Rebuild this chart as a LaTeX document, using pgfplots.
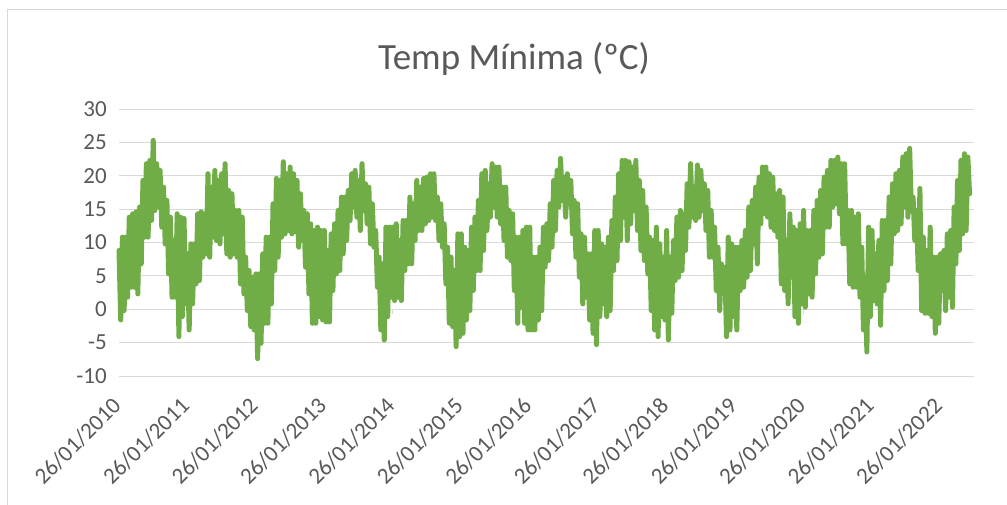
\documentclass[border=0pt]{standalone}
\usepackage{fontspec}
\setmainfont{Carlito}
\usepackage{pgfplots}
\usepackage{pgfplotstable}
\pgfplotsset{compat=1.18}

\definecolor{lgreen}{HTML}{70AD47}
\definecolor{gridc}{HTML}{D9D9D9}
\definecolor{txtc}{HTML}{595959}

% daily minimum temperature, read off the chart as upper/lower pairs,
% 40 values per year starting 26/01/2010
\pgfplotstableread[row sep=\\]{
v\\
8.8\\ -1.6\\ 10.8\\ -0.2\\ 10.8\\ 1.8\\ 13.8\\ 3.3\\ 14.3\\ 3.3\\ 14.6\\ 2.3\\ 15.3\\ 6.8\\ 19.3\\ 10.8\\ 21.8\\ 10.8\\ 22.3\\ 13.3\\
25.3\\ 14.8\\ 21.8\\ 15.3\\ 20.8\\ 12.3\\ 18.3\\ 9.8\\ 16.3\\ 5.3\\ 13.8\\ 1.8\\ 10.3\\ 1.8\\ 14.3\\ -4.1\\ 13.8\\ -1.1\\ 13.6\\ 0.8\\
8.3\\ -3.1\\ 9.8\\ 0.8\\ 9.8\\ 3.8\\ 14.3\\ 4.3\\ 14.6\\ 7.8\\ 14.3\\ 8.3\\ 20.3\\ 7.8\\ 18.3\\ 10.8\\ 20.8\\ 10.3\\ 19.3\\ 9.8\\
20.3\\ 11.3\\ 21.8\\ 8.3\\ 17.8\\ 7.8\\ 17.3\\ 8.3\\ 14.8\\ 7.8\\ 14.8\\ 3.8\\ 13.8\\ 2.3\\ 7.8\\ -0.2\\ 5.8\\ -2.6\\ 4.8\\ -3.1\\
5.3\\ -7.4\\ 5.3\\ -5.1\\ 8.3\\ -2.1\\ 10.8\\ -2.1\\ 10.8\\ 0.8\\ 15.8\\ 5.8\\ 19.6\\ 7.8\\ 19.3\\ 10.8\\ 22.1\\ 11.3\\ 20.3\\ 11.8\\
21.3\\ 11.3\\ 20.3\\ 11.6\\ 19.3\\ 9.3\\ 17.3\\ 10.3\\ 14.8\\ 6.3\\ 14.3\\ 2.3\\ 12.8\\ -2.1\\ 11.8\\ -2.1\\ 12.3\\ -1.1\\ 11.8\\ -1.6\\
11.8\\ -1.9\\ 8.8\\ -1.9\\ 11.3\\ 2.8\\ 12.8\\ 5.3\\ 14.8\\ 5.8\\ 16.8\\ 8.3\\ 16.8\\ 10.3\\ 17.8\\ 13.3\\ 20.3\\ 15.3\\ 20.8\\ 13.8\\
19.3\\ 11.8\\ 21.8\\ 14.8\\ 18.8\\ 12.8\\ 18.3\\ 9.8\\ 15.8\\ 9.3\\ 11.8\\ 3.3\\ 7.8\\ -3.1\\ 6.8\\ -4.6\\ 12.3\\ -1.1\\ 12.3\\ 1.8\\
12.3\\ 1.3\\ 12.8\\ 1.8\\ 10.3\\ 1.3\\ 13.3\\ 5.8\\ 13.3\\ 6.8\\ 16.8\\ 6.8\\ 15.8\\ 10.3\\ 19.3\\ 11.8\\ 18.3\\ 11.8\\ 19.6\\ 12.8\\
19.8\\ 13.3\\ 20.3\\ 13.8\\ 20.3\\ 13.3\\ 16.8\\ 10.3\\ 15.8\\ 9.3\\ 12.8\\ 3.8\\ 9.3\\ -2.1\\ 7.8\\ -2.6\\ 5.8\\ -5.6\\ 11.3\\ -4.1\\
11.3\\ -3.6\\ 9.3\\ -1.6\\ 8.8\\ -0.2\\ 12.3\\ 2.8\\ 13.8\\ 5.8\\ 16.3\\ 5.8\\ 20.3\\ 8.8\\ 20.8\\ 11.8\\ 18.8\\ 13.8\\ 21.8\\ 15.3\\
21.3\\ 13.8\\ 21.3\\ 12.8\\ 18.3\\ 10.3\\ 18.3\\ 7.8\\ 14.8\\ 7.3\\ 14.3\\ 2.8\\ 10.8\\ -2.1\\ 10.8\\ 0.3\\ 11.8\\ -2.1\\ 12.3\\ -3.1\\
12.3\\ -3.1\\ 7.8\\ -3.1\\ 7.8\\ -1.6\\ 9.3\\ -0.2\\ 12.3\\ 6.3\\ 12.8\\ 7.3\\ 15.8\\ 9.3\\ 19.3\\ 11.8\\ 20.8\\ 15.3\\ 22.6\\ 16.3\\
19.8\\ 13.8\\ 20.3\\ 15.8\\ 19.3\\ 11.3\\ 16.3\\ 7.8\\ 15.8\\ 4.8\\ 11.3\\ 0.8\\ 10.8\\ 1.8\\ 8.3\\ -1.6\\ 8.3\\ -3.6\\ 11.8\\ -5.3\\
11.8\\ -1.1\\ 9.8\\ 0.8\\ 9.3\\ -1.1\\ 10.8\\ -0.2\\ 13.3\\ 5.8\\ 16.8\\ 7.3\\ 20.3\\ 10.3\\ 22.3\\ 13.8\\ 22.3\\ 10.3\\ 22.1\\ 12.8\\
21.3\\ 14.8\\ 22.3\\ 11.8\\ 19.3\\ 8.8\\ 17.8\\ 7.3\\ 15.3\\ 5.3\\ 10.8\\ -0.2\\ 10.3\\ -3.1\\ 12.3\\ -4.1\\ 9.8\\ -1.1\\ 7.8\\ -1.6\\
11.8\\ -4.6\\ 7.8\\ -0.6\\ 10.3\\ 4.3\\ 13.8\\ 4.8\\ 14.8\\ 5.8\\ 14.3\\ 8.8\\ 18.8\\ 12.3\\ 21.8\\ 13.8\\ 18.3\\ 13.3\\ 21.6\\ 13.8\\
20.8\\ 14.8\\ 18.8\\ 11.8\\ 17.8\\ 7.8\\ 14.8\\ 7.8\\ 12.3\\ 2.8\\ 9.3\\ -0.2\\ 6.8\\ 2.8\\ 6.3\\ -4.1\\ 10.8\\ -3.1\\ 9.8\\ -1.1\\
9.3\\ -3.1\\ 9.3\\ 2.8\\ 10.3\\ 3.3\\ 11.8\\ 4.8\\ 15.3\\ 5.8\\ 16.3\\ 9.8\\ 18.3\\ 6.8\\ 19.8\\ 12.8\\ 21.3\\ 14.3\\ 21.3\\ 13.8\\
20.3\\ 12.3\\ 19.8\\ 11.8\\ 17.3\\ 10.8\\ 17.8\\ 3.8\\ 16.8\\ 2.8\\ 10.3\\ 0.8\\ 14.3\\ 4.8\\ 12.3\\ -1.1\\ 11.8\\ -2.1\\ 12.8\\ 0.8\\
14.8\\ 0.3\\ 11.8\\ 2.3\\ 11.8\\ 1.8\\ 14.8\\ 5.3\\ 16.3\\ 7.8\\ 17.8\\ 8.3\\ 19.8\\ 12.3\\ 20.8\\ 12.3\\ 22.3\\ 15.3\\ 22.3\\ 15.8\\
22.8\\ 14.3\\ 21.8\\ 9.8\\ 21.8\\ 9.8\\ 14.8\\ 3.8\\ 14.8\\ 3.3\\ 13.8\\ 3.3\\ 14.3\\ 1.8\\ 9.3\\ -3.1\\ 4.8\\ -6.4\\ 12.3\\ -1.1\\
11.8\\ 1.3\\ 8.3\\ 0.8\\ 10.3\\ -2.4\\ 13.3\\ 2.8\\ 13.3\\ 4.3\\ 16.8\\ 6.8\\ 18.8\\ 11.3\\ 20.3\\ 11.8\\ 20.8\\ 12.8\\ 22.8\\ 15.3\\
23.3\\ 13.8\\ 24.1\\ 14.8\\ 16.8\\ 10.3\\ 14.8\\ 5.8\\ 18.1\\ -0.2\\ 10.8\\ -0.6\\ 8.8\\ -0.6\\ 12.3\\ -1.1\\ 7.8\\ -3.6\\ 7.8\\ -2.1\\
8.3\\ 2.8\\ 8.8\\ -0.2\\ 11.3\\ 1.8\\ 11.8\\ 0.3\\ 15.3\\ 6.8\\ 19.3\\ 8.8\\ 22.3\\ 11.3\\ 23.3\\ 11.8\\ 22.8\\ 17.3\\
}\tmin

\begin{document}
\begin{tikzpicture}[x=1pt,y=1pt]
\fill[white] (0,0) rectangle (1007,-505);
\draw[gridc, line width=1pt] (7,-505) -- (7,-10) -- (1007,-10);
\node[anchor=base, text=txtc, font=\fontsize{37}{37}\selectfont] at (514,-70) {Temp Mínima (ºC)};
\begin{axis}[
    at={(119pt,-376pt)}, anchor=south west,
    width=855pt, height=267pt, scale only axis,
    xmin=0, xmax=499.6,
    ymin=-10, ymax=30,
    ytick={-10,-5,0,5,10,15,20,25,30},
    yticklabels={-10,-5,0,5,10,15,20,25,30},
    xtick={0,40,...,480},
    xticklabels={26/01/2010,26/01/2011,26/01/2012,26/01/2013,26/01/2014,26/01/2015,26/01/2016,26/01/2017,26/01/2018,26/01/2019,26/01/2020,26/01/2021,26/01/2022},
    ymajorgrids=true,
    grid style={gridc, line width=1pt},
    axis line style={draw=none},
    major tick length=0pt,
    tick label style={text=txtc, font=\fontsize{23}{23}\selectfont, inner sep=0pt},
    yticklabel style={anchor=east, xshift=-12pt},
    xticklabel style={yshift=-26pt, xshift=-2pt, rotate=45, anchor=east},
    clip=false,
]
\pgfplotsinvokeforeach{0,40,...,480}{
  \draw[gridc, line width=1pt] (axis cs:#1,0) -- ++(0pt,-5pt);
}
\addplot[draw=lgreen, line width=5pt, line join=round, line cap=round, no markers]
    table[x expr=\coordindex, y=v] {\tmin};
\end{axis}
\pgfresetboundingbox
\path (0,0) rectangle (1007,-505);
\end{tikzpicture}
\end{document}
